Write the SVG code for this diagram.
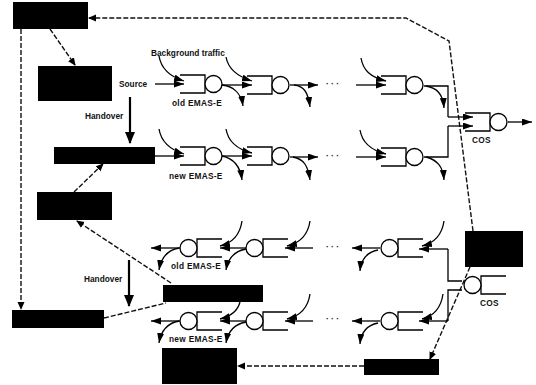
<svg xmlns="http://www.w3.org/2000/svg" width="536" height="385" viewBox="0 0 536 385">
<style>
text{font-family:"Liberation Sans",Arial,sans-serif;font-size:8.300px;fill:#111;font-weight:bold}
.e{letter-spacing:.3px}
.box{fill:#000}
.q{fill:none;stroke:#000;stroke-width:1.3}
.c{fill:#fff;stroke:#000;stroke-width:1.3}
.l{fill:none;stroke:#000;stroke-width:1.3;marker-end:url(#a)}
.p{fill:none;stroke:#000;stroke-width:1.3}
.d{fill:none;stroke:#111;stroke-width:1.4;stroke-dasharray:5 2}
.da{marker-end:url(#b)}
.h{fill:none;stroke:#000;stroke-width:2.2;marker-end:url(#h)}
</style>
<defs>
<marker id="a" markerUnits="userSpaceOnUse" markerWidth="12" markerHeight="8" refX="10" refY="3.500" orient="auto"><path d="M0 0L10 3.500L0 7Z" fill="#000"/></marker>
<marker id="b" markerUnits="userSpaceOnUse" markerWidth="9" markerHeight="8" refX="7" refY="4" orient="auto"><path d="M0 0.500L8 4L0 7.500Z" fill="#000"/></marker>
<marker id="h" markerUnits="userSpaceOnUse" markerWidth="14" markerHeight="10" refX="11" refY="5" orient="auto"><path d="M0 0L12 5L0 10Z" fill="#000"/></marker>
<g id="qr"><path class="q" d="M0-9H25V9H0"/><circle class="c" cx="33.500" cy="0" r="8.500"/></g>
<g id="ql"><path class="q" d="M0-9H-25V9H0"/><circle class="c" cx="-33.500" cy="0" r="8.500"/></g>
</defs>
<g id="connectors">
<path class="d da" d="M473 231L449 41L406 18H89"/>
<path class="d da" d="M50 29L75 65"/>
<path class="d da" d="M21 29V309"/>
<path class="d da" d="M171 283L77 221"/>
<path class="d da" d="M74 192L103 164"/>
<path class="d" d="M104 318L166 303"/>
<path class="d da" d="M364 366H238"/>
<path class="d da" d="M470 267L430 359"/>
<path class="h" d="M130 97V143"/>
<path class="h" d="M129 260V306"/>
<g id="row1">
<path class="l" d="M155 84H184"/><path class="l" d="M159 56C161 68 168 76 184 81"/>
<path class="l" d="M222 85H252"/><path class="l" d="M226 57C228 68 236 76 252 81"/><path class="l" d="M222 85C232 86 241 92 243 106"/>
<path class="l" d="M290 85H318"/><path class="l" d="M294 85C304 86 308 92 310 107"/>
<path class="l" d="M356 85H386"/><path class="l" d="M361 58C363 70 370 77 386 81"/>
<path class="p" d="M424 86H448V117"/><path class="l" d="M448 117H473"/>
<path class="l" d="M426 86C437 88 443 94 444 108"/>
</g>
<g id="row2">
<path class="l" d="M155 156H184"/><path class="l" d="M159 129C161 141 168 149 184 154"/>
<path class="l" d="M222 156H252"/><path class="l" d="M226 129C228 141 236 149 252 153"/><path class="l" d="M222 156C232 158 240 164 242 180"/>
<path class="l" d="M290 157H318"/><path class="l" d="M293 157C304 159 308 166 310 180"/>
<path class="l" d="M356 157H386"/><path class="l" d="M360 130C362 142 370 150 386 154"/>
<path class="p" d="M424 157H448V126"/><path class="l" d="M448 126H473"/>
<path class="l" d="M426 157C437 160 443 166 444 180"/>
</g>
<path class="l" d="M508 122H532"/>
<g id="row3">
<path class="l" d="M180 248H151"/><path class="l" d="M179 248C168 250 161 258 159 270"/>
<path class="l" d="M246 248H220"/><path class="l" d="M242 221C240 235 232 243 220 246"/><path class="l" d="M246 249C235 251 228 258 226 270"/>
<path class="l" d="M313 248H285"/><path class="l" d="M310 221C308 235 300 243 287 246"/>
<path class="l" d="M380 248H352"/><path class="l" d="M378 250C368 252 361 259 360 271"/>
<path class="p" d="M462 281H448V249"/><path class="l" d="M448 249H419"/><path class="l" d="M444 221C442 235 434 243 422 246"/>
</g>
<g id="row4">
<path class="l" d="M180 321H151"/><path class="l" d="M179 321C168 323 161 331 159 343"/>
<path class="l" d="M246 321H220"/><path class="l" d="M240 302C238 310 232 316 220 319"/><path class="l" d="M246 322C235 324 228 331 226 343"/>
<path class="l" d="M313 321H285"/><path class="l" d="M310 294C308 308 300 316 287 319"/>
<path class="l" d="M380 321H352"/><path class="l" d="M378 323C368 325 361 332 360 344"/>
<path class="p" d="M462 290H448V321"/><path class="l" d="M448 321H419"/><path class="l" d="M443 294C441 308 434 316 422 319"/>
</g>
</g>
<g id="queues">
<use id="q1a" href="#qr" x="180" y="84"/><use id="q1b" href="#qr" x="247" y="85"/><use id="q1c" href="#qr" x="381" y="85"/>
<use id="q2a" href="#qr" x="180" y="156"/><use id="q2b" href="#qr" x="247" y="156"/><use id="q2c" href="#qr" x="381" y="157"/>
<use id="qcos1" href="#qr" x="465" y="122"/>
<use id="q3a" href="#ql" x="222" y="248"/><use id="q3b" href="#ql" x="288" y="248"/><use id="q3c" href="#ql" x="423" y="248"/>
<use id="q4a" href="#ql" x="222" y="321"/><use id="q4b" href="#ql" x="288" y="321"/><use id="q4c" href="#ql" x="423" y="321"/>
<use id="qcos2" href="#ql" x="506" y="285"/>
</g>
<g id="node-1"><rect class="box" x="13" y="2" width="75" height="27"/></g>
<g id="node-2"><rect class="box" x="38" y="66" width="74" height="35"/></g>
<g id="node-3"><rect class="box" x="54" y="147" width="101" height="17"/></g>
<g id="node-4"><rect class="box" x="37" y="192" width="75" height="28"/></g>
<g id="node-5"><rect class="box" x="163" y="285" width="100" height="17"/></g>
<g id="node-6"><rect class="box" x="12" y="310" width="92" height="18"/></g>
<g id="node-7"><rect class="box" x="162" y="348" width="75" height="36"/></g>
<g id="node-8"><rect class="box" x="465" y="231" width="58" height="36"/></g>
<g id="node-9"><rect class="box" x="364" y="359" width="75" height="16"/></g>
<g id="labels">
<text x="151" y="56">Background traffic</text>
<text x="119" y="87">Source</text>
<text x="85" y="119">Handover</text>
<text class="e" x="172" y="106">old EMAS-E</text>
<text class="e" x="169" y="179">new EMAS-E</text>
<text class="e" x="472" y="143">COS</text>
<text x="84" y="282">Handover</text>
<text class="e" x="171" y="269">old EMAS-E</text>
<text class="e" x="169" y="342">new EMAS-E</text>
<text class="e" x="480" y="306">COS</text>
<text x="326" y="87">· · ·</text>
<text x="326" y="159">· · ·</text>
<text x="326" y="250">· · ·</text>
<text x="326" y="322">· · ·</text>
</g>
</svg>
